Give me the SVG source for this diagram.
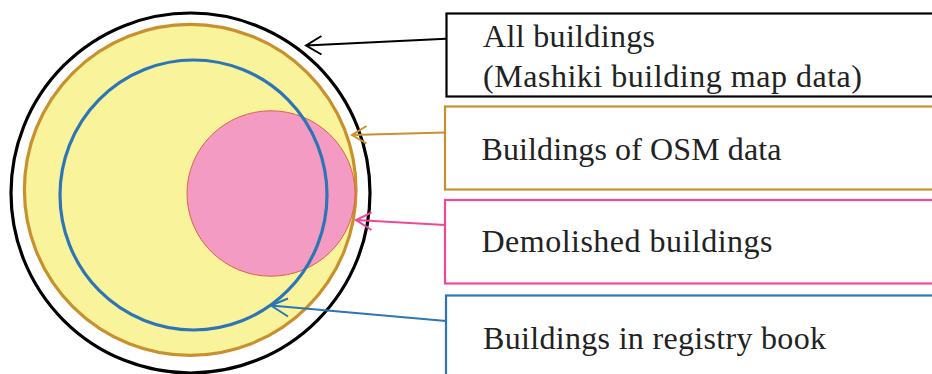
<svg xmlns="http://www.w3.org/2000/svg" width="932" height="374" viewBox="0 0 932 374">
<style>
text{font-family:"Liberation Serif","Times New Roman",serif;font-size:32px;fill:#222}
.box{fill:#fff;stroke-width:2.2}
.conn{fill:none;stroke-width:2}
</style>
<rect width="932" height="374" fill="#fff"/>
<g id="all-circle"><ellipse cx="190.5" cy="193" rx="179.5" ry="180" fill="#fff" stroke="#000" stroke-width="3.2"/></g>
<g id="osm-circle"><ellipse cx="190.2" cy="189.8" rx="165.8" ry="165.5" fill="#F9F49B" stroke="#C9912E" stroke-width="3.2"/></g>
<g id="demolished-circle"><ellipse cx="271" cy="193.5" rx="84" ry="82.7" fill="#F39BC3" stroke="#E0604A" stroke-width="1"/></g>
<g id="registry-circle"><ellipse cx="193.5" cy="195" rx="133.5" ry="135" fill="none" stroke="#2E75B6" stroke-width="3.2"/></g>

<g id="box-all"><rect class="box" x="446.5" y="13.5" width="500" height="83" stroke="#000" stroke-width="2.6"/>
<text x="483" y="47" textLength="172">All buildings</text><text x="483" y="87" textLength="379">(Mashiki building map data)</text></g>
<g id="box-osm"><rect class="box" x="445" y="106.5" width="500" height="83" stroke="#C9912E"/>
<text x="481.5" y="159.5" textLength="300">Buildings of OSM data</text></g>
<g id="box-demolished"><rect class="box" x="445" y="200" width="500" height="83.5" stroke="#EE4A97"/>
<text x="481.5" y="252" textLength="291">Demolished buildings</text></g>
<g id="box-registry"><rect class="box" x="446" y="295.5" width="500" height="100" stroke="#2E75B6"/>
<text x="483" y="348.5" textLength="343">Buildings in registry book</text></g>

<g id="connectors">
<path class="conn" stroke="#000" d="M446 38.7 L306 45.5 M321.5 36 L306 45.5 L321.5 54.5"/>
<path class="conn" stroke="#C9912E" d="M445 132.5 L352 135 M366.5 126 L352 135 L366.5 143.5"/>
<path class="conn" stroke="#EE4A97" d="M445 225 L356 220 M371.5 212.5 L356 220 L371.5 230"/>
<path class="conn" stroke="#2E75B6" d="M446 321 L271 305.5 M288 298.5 L271 305.5 L288 316.5"/>
</g>
</svg>
